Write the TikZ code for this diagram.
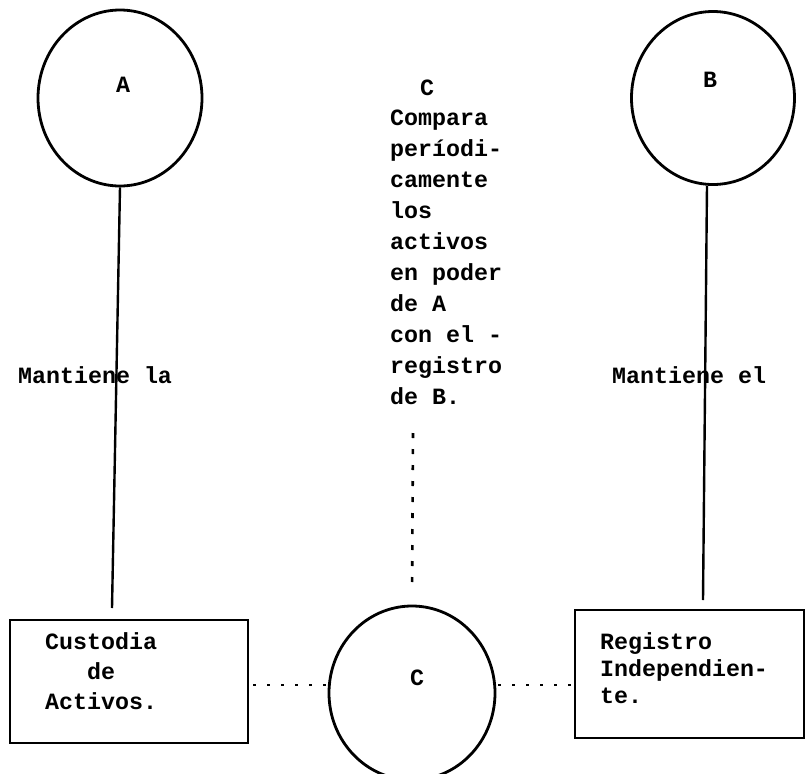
\documentclass[tikz,border=0pt]{standalone}
\usepackage{fontspec}
\setmonofont{Liberation Mono}
\usetikzlibrary{shapes.geometric,calc}
\begin{document}
\begin{tikzpicture}[x=1pt,y=-1pt,
  tw/.style={font=\ttfamily\bfseries\fontsize{23.3}{31}\selectfont, inner sep=0pt, anchor=base west},
  lab/.style={font=\ttfamily\bfseries\fontsize{23.3}{31}\selectfont, inner sep=0pt, anchor=center},
  bubble/.style={draw, ellipse, line width=2.8pt, inner sep=0pt},
  boxx/.style={draw, rectangle, line width=2.2pt, inner sep=0pt},
  solidline/.style={line width=2.4pt},
  dotline/.style={line width=2.8pt, dash pattern=on 2.5pt off 11.5pt},
  vdotline/.style={line width=2.6pt, dash pattern=on 5pt off 11pt}]
\useasboundingbox (0,0) rectangle (807,774);

% circles
\node[bubble, minimum width=164pt, minimum height=176pt] (A) at (120,98) {};
\node[bubble, minimum width=163pt, minimum height=173pt] (B) at (713,98) {};
\node[bubble, minimum width=166pt, minimum height=174pt] (C) at (412,693) {};
\node[lab] (Alab) at (123,85) {A};
\node[lab] (Blab) at (710,80) {B};
\node[lab] (Clab) at (417,678) {C};

% boxes
\node[boxx, minimum width=238pt, minimum height=123pt] (cust) at (129,681.5) {};
\node[boxx, minimum width=229pt, minimum height=128pt] (reg) at (689.5,674) {};
\node[tw] (cu1) at (45,649) {Custodia};
\node[tw] (cu2) at (87,679) {de};
\node[tw] (cu3) at (45,709) {Activos.};
\node[tw] (re1) at (600,649) {Registro};
\node[tw] (re2) at (600,676) {Independien-};
\node[tw] (re3) at (600,703) {te.};

% side labels
\node[tw] (mla) at (18,383) {Mantiene la};
\node[tw] (mel) at (612,383) {Mantiene el};

% middle text
\node[tw] (mC) at (420,95) {C};
\foreach \t [count=\i] in {Compara,períodi-,camente,los,activos,en poder,de A,con el -,registro,de B.}
  \node[tw] (m\i) at (390,{125+31*(\i-1)}) {\t};

% connectors
\coordinate (aend) at (112,608);
\coordinate (bend) at (703,600);
\coordinate (ctop) at (413,433);
\draw[solidline] (A.south) -- (aend);
\draw[solidline] ($(B.south)+(-6,0)$) -- (bend);
\draw[vdotline, shorten >=12pt] (ctop) -- (C.north);
\draw[dotline] ($(cust.east |- 0,685)+(4,0)$) -- ($(C.west |- 0,685)+(-2,0)$);
\draw[dotline] ($(C.east |- 0,685)+(2,0)$) -- (reg.west |- 0,685);
\end{tikzpicture}
\end{document}
